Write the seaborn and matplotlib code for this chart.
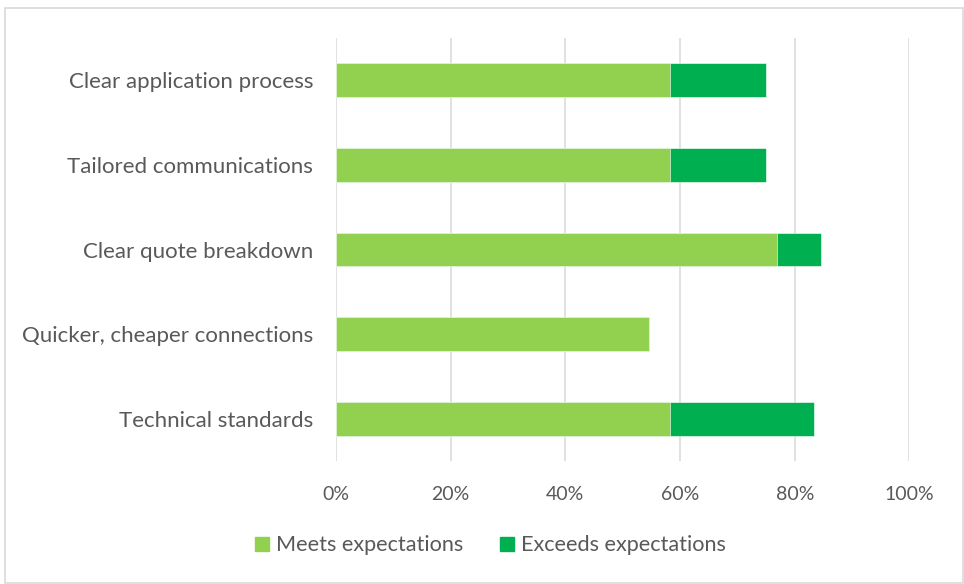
import matplotlib
matplotlib.use("Agg")
import matplotlib.pyplot as plt
from matplotlib.patches import Rectangle
from matplotlib.lines import Line2D
from matplotlib.ticker import PercentFormatter
import seaborn as sns
import pandas as pd

# Survey results: share of respondents per improvement area
categories = [
    "Clear application process",
    "Tailored communications",
    "Clear quote breakdown",
    "Quicker, cheaper connections",
    "Technical standards",
]
meets = [58.3, 58.3, 76.9, 54.5, 58.3]
exceeds = [16.7, 16.7, 7.7, 0.0, 25.0]
series_names = ["Meets expectations", "Exceeds expectations"]
x_ticks = [0, 20, 40, 60, 80, 100]

LIGHT = "#92D050"
DARK = "#00B050"
GRID = "#D9D9D9"
TEXT = "#595959"

sns.set_theme(style="white")
plt.rcParams["font.family"] = ["Lato", "DejaVu Sans"]

df = pd.DataFrame({
    "category": categories,
    "meets": meets,
    "total": [m + e for m, e in zip(meets, exceeds)],
})

fig = plt.figure(figsize=(9.64, 5.84), dpi=100)
ax = fig.add_axes([336 / 964, 1 - 461 / 584, (909.4 - 336) / 964, (461 - 38) / 584])

# Stacked bars: draw the full length in dark green, then overlay the first segment
sns.barplot(data=df, x="total", y="category", orient="h", color=DARK,
            width=0.4, saturation=1, ax=ax, edgecolor="white", linewidth=0.4)
sns.barplot(data=df, x="meets", y="category", orient="h", color=LIGHT,
            width=0.4, saturation=1, ax=ax, edgecolor="white", linewidth=0.4)

ax.set_xlim(0, 100)
ax.set_ylim(4.5, -0.5)
ax.set_xticks(x_ticks)
ax.xaxis.set_major_formatter(PercentFormatter(decimals=0))
ax.set_axisbelow(True)
ax.grid(axis="x", color=GRID, linewidth=1.1)
ax.grid(axis="y", visible=False)
for s in ax.spines.values():
    s.set_visible(False)
ax.set_xlabel("")
ax.set_ylabel("")
ax.tick_params(axis="both", length=0, labelcolor=TEXT)
ax.tick_params(axis="x", labelsize=14, pad=18)
ax.tick_params(axis="y", labelsize=16, pad=16.5)

handles = [
    Line2D([], [], marker="s", linestyle="none", markersize=10,
           markerfacecolor=LIGHT, markeredgecolor=LIGHT),
    Line2D([], [], marker="s", linestyle="none", markersize=10,
           markerfacecolor=DARK, markeredgecolor=DARK),
]
fig.legend(handles, series_names, loc="center", bbox_to_anchor=(0.507, 0.066),
           ncol=2, frameon=False, fontsize=15.6, labelcolor=TEXT,
           handletextpad=0.15, columnspacing=1.5, handlelength=1.0)

# Chart frame
fig.patches.append(Rectangle((5 / 964, 1.5 / 584), 958 / 964, 574.5 / 584,
                             transform=fig.transFigure, fill=False,
                             edgecolor=GRID, linewidth=1.2))

fig.savefig("out.png", dpi=100, facecolor="white")
